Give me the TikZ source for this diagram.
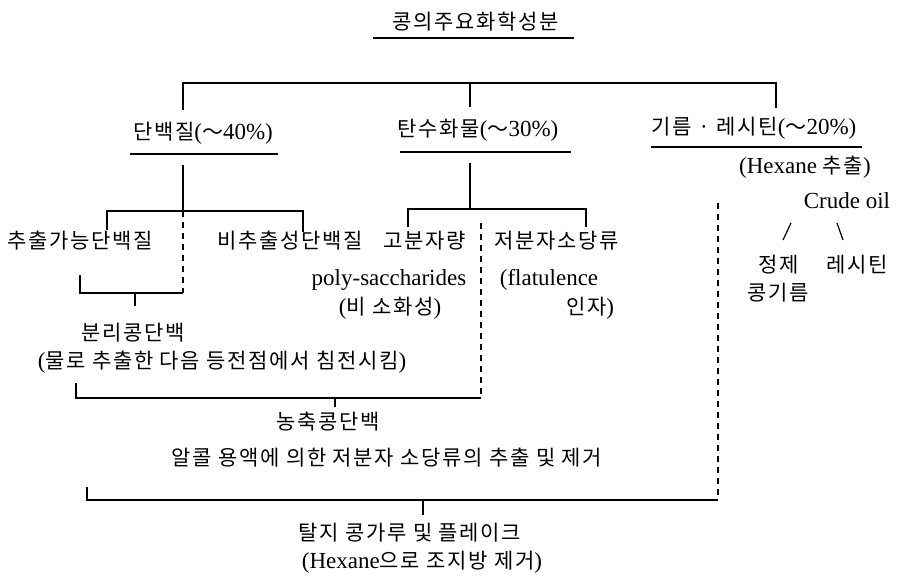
\documentclass[tikz,border=0pt]{standalone}
\usepackage{fontspec}
\setmainfont{Liberation Serif}
\newfontfamily\krfont{Noto Sans CJK KR}[LetterSpace=8]
\newcommand\kr{\krfont\fontsize{21}{24}\selectfont}
\begin{document}
\begin{tikzpicture}[x=1pt,y=-1pt,
  txt/.style={inner sep=0pt,font=\fontsize{23}{26}\selectfont},
  ln/.style={line width=1.2pt},
  dsh/.style={line width=1.2pt,dash pattern=on 6pt off 5pt},
  ul/.style={line width=1.2pt}]
\useasboundingbox (0,0) rectangle (908,580);
% title
\node[txt] (title) at (476,22) {\kr 콩의주요화학성분};
\draw[ul] (373,38) -- (574,38);
% level 1
\node[txt] (prot) at (203,133) {{\kr 단백질}({\kr ～}40\%)};
\draw[ul] (130,154) -- (278,154);
\node[txt] (carb) at (478,130) {{\kr 탄수화물}({\kr ～}30\%)};
\draw[ul] (400,152) -- (571,152);
\node[txt] (oil) at (754,128) {{\kr 기름 · 레시틴}({\kr ～}20\%)};
\draw[ul] (651,147) -- (862,147);
% top tree
\coordinate (tl) at (183,83); \coordinate (tr) at (776,83); \coordinate (tm) at (470,83);
\draw[ln] (183,110) -- (tl) -- (tr) -- (776,108);
\draw[ln] (tm) -- (470,107);
% oil branch
\node[txt] (hex) at (805,167) {(Hexane {\kr 추출})};
\node[txt] (crude) at (847,201) {Crude oil};
\draw[ln] (791,223) -- (783,240);
\draw[ln] (837,223) -- (843,240);
\node[txt] (jeong) at (779,265) {\kr 정제};
\node[txt] (lec) at (857,265) {\kr 레시틴};
\node[txt] (kong) at (778,293) {\kr 콩기름};
% protein branch
\coordinate (pb) at (183,211);
\draw[ln] (183,165) -- (pb);
\draw[ln] (107,230) -- (107,211) -- (303,211) -- (303,232);
\draw[dsh] (pb) -- (183,293);
\node[txt] (ext) at (80,241) {\kr 추출가능단백질};
\node[txt] (next) at (290,241) {\kr 비추출성단백질};
\coordinate (ib) at (135,293);
\draw[ln] (80,275) -- (80,293) -- (183,293);
\draw[ln] (ib) -- (135,306);
\node[txt] (iso) at (133,333) {\kr 분리콩단백};
\node[txt] (isod) at (222,362) {({\kr 물로 추출한 다음 등전점에서 침전시킴})};
% carbohydrate branch
\coordinate (cb) at (470,209);
\draw[ln] (470,163) -- (cb);
\draw[ln] (408,227) -- (408,209) -- (586,209) -- (586,227);
\node[txt] (hmw) at (425,241) {\kr 고분자량};
\node[txt] (lmw) at (557,241) {\kr 저분자소당류};
\node[txt] (poly) at (389,280) {poly-saccharides};
\node[txt] (indig) at (390,308) {({\kr 비 소화성})};
\node[txt] (flat) at (549,280) {(flatulence};
\node[txt] (fact) at (590,308) {{\kr 인자})};
\draw[dsh] (481,223) -- (481,398);
% concentrate
\draw[ln] (76,383) -- (76,398) -- (481,398);
\draw[ln] (335,398) -- (335,407);
\node[txt] (conc) at (328,422) {\kr 농축콩단백};
\node[txt] (concd) at (387,458) {\kr 알콜 용액에 의한 저분자 소당류의 추출 및 제거};
% defatted
\draw[dsh] (718,203) -- (718,500);
\draw[ln] (87,487) -- (87,500) -- (718,500);
\draw[ln] (423,500) -- (423,515);
\node[txt] (def) at (410,533) {\kr 탈지 콩가루 및 플레이크};
\node[txt] (defd) at (422,562) {(Hexane{\kr 으로 조지방 제거})};
\end{tikzpicture}
\end{document}
